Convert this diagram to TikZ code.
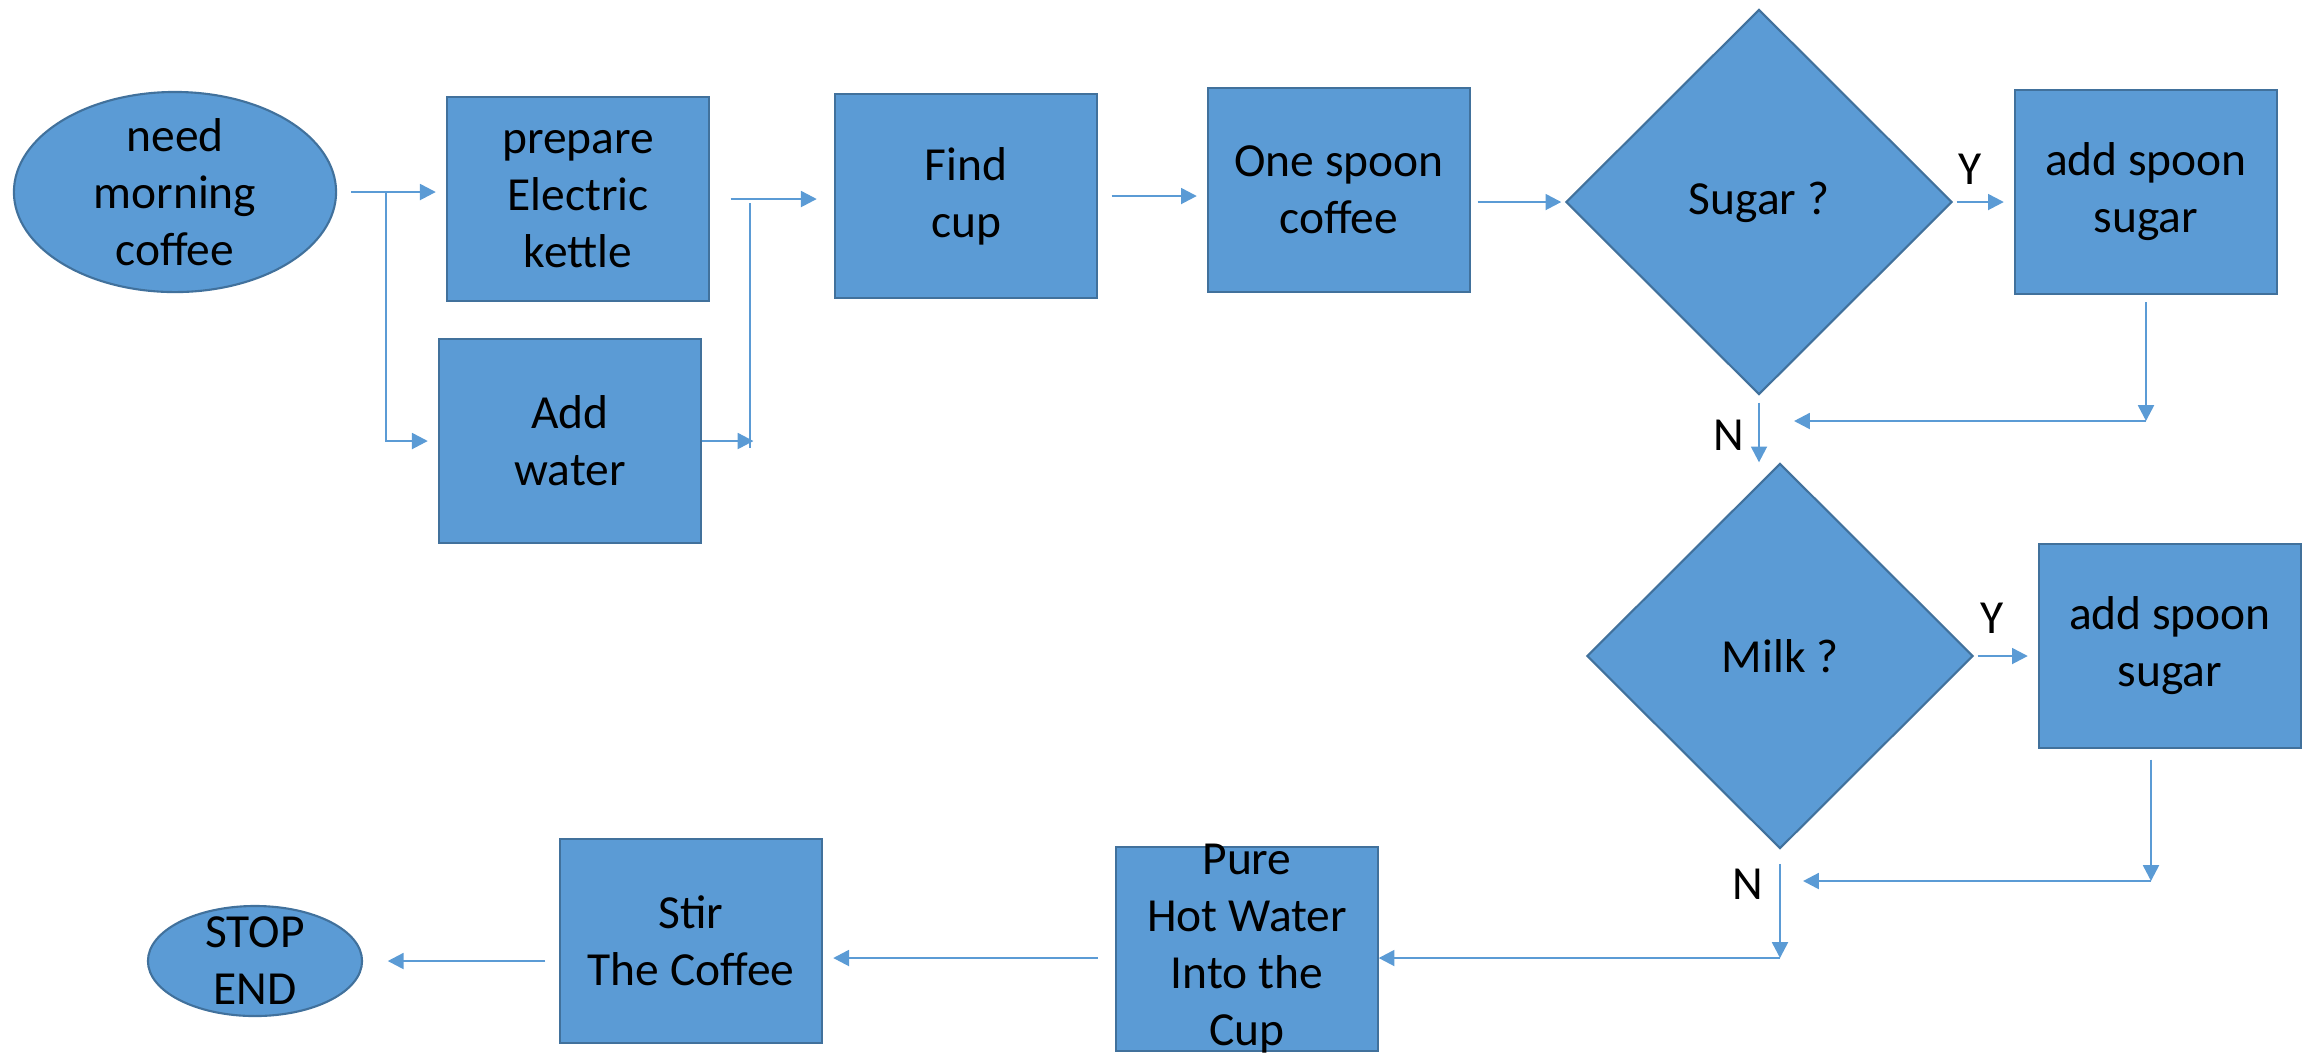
\documentclass[tikz,border=0pt]{standalone}
\usepackage{fontspec}
\setmainfont{Carlito}
\usetikzlibrary{shapes.geometric,arrows.meta}
\definecolor{boxblue}{HTML}{5B9BD5}
\definecolor{boxedge}{HTML}{41719C}
\tikzset{
  every node/.style={font=\fontsize{13.5pt}{16.2pt}\selectfont},
  process/.style={rectangle,draw=boxedge,fill=boxblue,line width=0.6pt,align=center,
    minimum width=2.61cm,minimum height=2.04cm,inner sep=2pt},
  decision/.style={diamond,draw=boxedge,fill=boxblue,line width=0.6pt,
    minimum width=3.86cm,minimum height=3.85cm,inner sep=0pt},
  terminal/.style={ellipse,draw=boxedge,fill=boxblue,line width=0.6pt,inner sep=0pt},
  flow/.style={draw=boxblue,line width=0.7pt,-{Triangle[length=4.5pt,width=4.5pt]},
    shorten <=4pt,shorten >=3pt},
  link/.style={draw=boxblue,line width=0.7pt}
}
\begin{document}
\begin{tikzpicture}[x=0.01cm,y=-0.01cm]
  \useasboundingbox (0,0) rectangle (2302,1059);
  \draw
    (175,192) node[terminal,minimum width=3.22cm,minimum height=2cm,
      label={[align=center]center:{need\\morning\\coffee}}] (start){}
    (578,199) node[process] (kettle){prepare\\Electric\\kettle}
    (570,441) node[process] (water){Add\\water}
    (966,196) node[process] (cup){Find\\cup}
    (1339,190) node[process] (spoon){One spoon\\coffee}
    (1759,202) node[decision] (sugar){Sugar ?}
    (2146,192) node[process] (addsugar){add spoon\\sugar}
    (1780,656) node[decision] (milk){Milk ?}
    (2170,646) node[process] (addmilk){add spoon\\sugar}
    (1247,949) node[process,label={[align=center]center:{Pure\\Hot Water\\Into the\\Cup}}] (pure){}
    (691,941) node[process] (stir){Stir\\The Coffee}
    (255,961) node[terminal,minimum width=2.14cm,minimum height=1.1cm,
      label={[align=center]center:{STOP\\END}}] (stop){}
    (1970,169) node (ysugar){Y}
    (1729,435) node (nsugar){N}
    (1992,618) node (ymilk){Y}
    (1748,884) node (nmilk){N};
  \coordinate (fork) at (386,192);
  \coordinate (jtop) at (750,203);
  \coordinate (jbot) at (750,448);
  \coordinate (ret1) at (2146,421);
  \coordinate (ret1end) at (1794,421);
  \coordinate (ret2) at (2151,881);
  \coordinate (ret2end) at (1803,881);
  \coordinate (drop) at (1780,958);
  \draw[link] (jtop) -- (jbot);
  \begin{scope}[flow]
    \draw (start.east) -- (start.east -| kettle.west);
    \draw[shorten <=0pt] (fork) |- (water.west);
    \draw[shorten <=6pt,shorten >=5pt] (kettle.east) -- (kettle.east -| cup.west);
    \draw[shorten <=0pt,shorten >=-1pt] (water.east) -- (water.east -| jtop);
    \draw (cup.east) -- (cup.east -| spoon.west);
    \draw[shorten <=2pt,shorten >=1pt] (spoon.east |- sugar.west) -- (sugar.west);
    \draw[shorten <=1pt] (sugar.east) -- (sugar.east -| addsugar.west);
    \draw[shorten <=2pt,shorten >=0pt] (addsugar.south) -- (ret1);
    \draw[shorten <=0pt,shorten >=0pt] (ret1) -- (ret1end);
    \draw[shorten <=2pt,shorten >=0pt] (sugar.south) -- (sugar.south |- milk.north);
    \draw[shorten <=1pt] (milk.east) -- (milk.east -| addmilk.west);
    \draw[shorten <=3pt,shorten >=0pt] (addmilk.south -| ret2) -- (ret2);
    \draw[shorten <=0pt,shorten >=0pt] (ret2) -- (ret2end);
    \draw[shorten >=0pt] (milk.south) -- (drop);
    \draw[shorten <=0pt,shorten >=0pt] (drop) -- (drop -| pure.east);
    \draw[shorten <=5pt] (pure.west |- drop) -- (stir.east |- drop);
    \draw[shorten <=4pt,shorten >=7pt] (stir.west |- stop.east) -- (stop.east);
  \end{scope}
\end{tikzpicture}
\end{document}
